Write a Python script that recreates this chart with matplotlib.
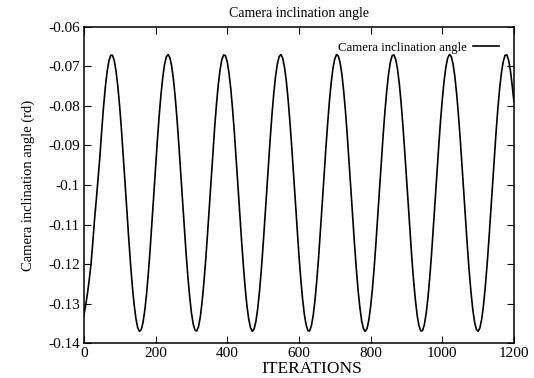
import matplotlib
matplotlib.use('Agg')
import matplotlib.pyplot as plt

plt.rcParams['font.family'] = ['Liberation Serif', 'DejaVu Serif']

# iterations, one sample every 5
iterations = list(range(0, 1201, 5))

# camera inclination angle (rd)
angle = [
    -0.1330, -0.1305, -0.1275, -0.1240, -0.1200, -0.1145, -0.1085, -0.1035, -0.0980, -0.0926,
    -0.0861, -0.0802, -0.0752, -0.0713, -0.0686, -0.0672, -0.0672, -0.0686, -0.0713, -0.0752,
    -0.0802, -0.0861, -0.0926, -0.0995, -0.1064, -0.1132, -0.1196, -0.1253, -0.1300, -0.1336,
    -0.1360, -0.1370, -0.1366, -0.1348, -0.1317, -0.1275, -0.1222, -0.1162, -0.1095, -0.1026,
    -0.0956, -0.0889, -0.0827, -0.0773, -0.0729, -0.0696, -0.0676, -0.0670, -0.0678, -0.0699,
    -0.0733, -0.0779, -0.0834, -0.0897, -0.0964, -0.1034, -0.1103, -0.1169, -0.1229, -0.1280,
    -0.1322, -0.1351, -0.1367, -0.1369, -0.1358, -0.1333, -0.1295, -0.1246, -0.1189, -0.1125,
    -0.1057, -0.0987, -0.0918, -0.0854, -0.0796, -0.0747, -0.0709, -0.0683, -0.0671, -0.0673,
    -0.0688, -0.0717, -0.0757, -0.0809, -0.0868, -0.0934, -0.1003, -0.1073, -0.1140, -0.1203,
    -0.1259, -0.1305, -0.1339, -0.1361, -0.1370, -0.1364, -0.1345, -0.1313, -0.1269, -0.1216,
    -0.1154, -0.1087, -0.1018, -0.0948, -0.0882, -0.0820, -0.0767, -0.0724, -0.0693, -0.0675,
    -0.0670, -0.0680, -0.0703, -0.0738, -0.0785, -0.0841, -0.0904, -0.0972, -0.1042, -0.1111,
    -0.1176, -0.1235, -0.1286, -0.1326, -0.1353, -0.1368, -0.1369, -0.1355, -0.1329, -0.1290,
    -0.1240, -0.1182, -0.1117, -0.1048, -0.0979, -0.0910, -0.0847, -0.0789, -0.0742, -0.0705,
    -0.0681, -0.0670, -0.0674, -0.0691, -0.0721, -0.0763, -0.0815, -0.0876, -0.0942, -0.1011,
    -0.1081, -0.1148, -0.1210, -0.1265, -0.1309, -0.1343, -0.1363, -0.1370, -0.1363, -0.1342,
    -0.1308, -0.1263, -0.1209, -0.1146, -0.1079, -0.1009, -0.0940, -0.0874, -0.0814, -0.0762,
    -0.0720, -0.0690, -0.0673, -0.0671, -0.0682, -0.0706, -0.0743, -0.0791, -0.0848, -0.0912,
    -0.0980, -0.1050, -0.1119, -0.1184, -0.1242, -0.1291, -0.1330, -0.1356, -0.1369, -0.1368,
    -0.1353, -0.1325, -0.1285, -0.1234, -0.1175, -0.1109, -0.1040, -0.0970, -0.0903, -0.0839,
    -0.0784, -0.0737, -0.0702, -0.0679, -0.0670, -0.0675, -0.0694, -0.0725, -0.0769, -0.0822,
    -0.0883, -0.0950, -0.1019, -0.1089, -0.1156, -0.1217, -0.1270, -0.1314, -0.1346, -0.1365,
    -0.1370, -0.1361, -0.1339, -0.1304, -0.1257, -0.1202, -0.1139, -0.1071, -0.1001, -0.0932,
    -0.0867, -0.0807, -0.0756, -0.0716, -0.0688, -0.0672, -0.0671, -0.0684, -0.0710, -0.0748,
    -0.0790,
]

xticks = [0, 200, 400, 600, 800, 1000, 1200]
yticks = [-0.14, -0.13, -0.12, -0.11, -0.1, -0.09, -0.08, -0.07, -0.06]
ytick_labels = ['-0.14', '-0.13', '-0.12', '-0.11', '-0.1', '-0.09', '-0.08', '-0.07', '-0.06']

fig = plt.figure(figsize=(5.34, 3.78), dpi=100)
ax = fig.add_axes([0.157, 0.092, 0.8055, 0.837])

ax.plot(iterations, angle, color='black', lw=1.2, label='Camera inclination angle')

ax.set_xlim(0, 1200)
ax.set_ylim(-0.14, -0.06)
ax.set_xticks(xticks)
ax.set_yticks(yticks)
ax.set_yticklabels(ytick_labels)
ax.tick_params(direction='in', top=True, right=True, length=5, width=0.8,
               labelsize=11, pad=3)
for s in ax.spines.values():
    s.set_linewidth(1.1)

ax.set_title('Camera inclination angle', fontsize=10, pad=7)
ax.set_xlabel('ITERATIONS', fontsize=12.5)
ax.xaxis.set_label_coords(0.53, -0.057)
ax.set_ylabel('Camera inclination angle (rd)', fontsize=10.5, labelpad=9)

ax.legend(loc='upper right', frameon=False, markerfirst=False, fontsize=9.3,
          handlelength=2.0, borderaxespad=0.75, handletextpad=0.5)

fig.savefig('out.png', dpi=100)
